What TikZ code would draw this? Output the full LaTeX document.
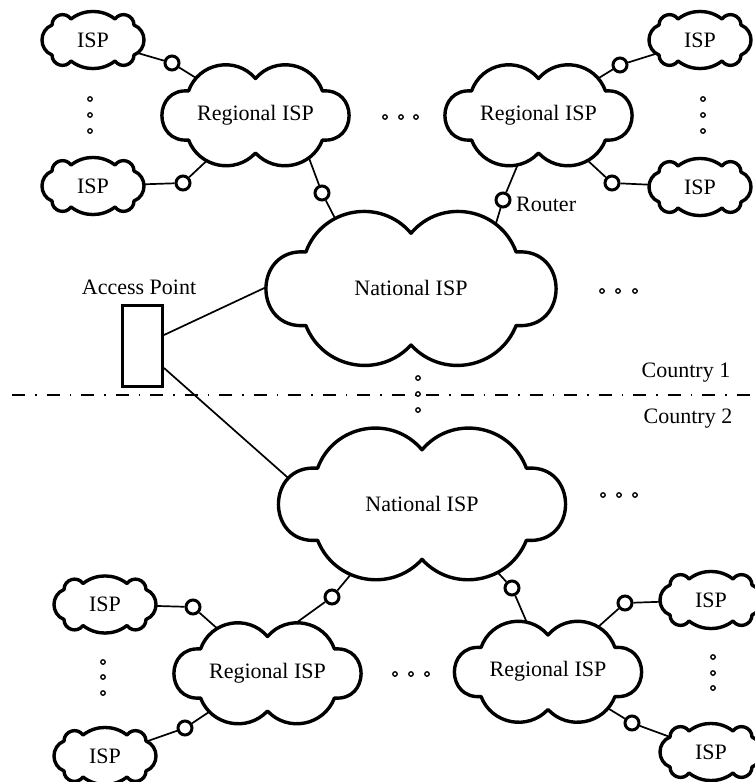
\documentclass[tikz,border=0pt]{standalone}
\usepackage{fontspec}
\setmainfont{Liberation Serif}
\pgfdeclarelayer{back}
\pgfsetlayers{back,main}

% Small ISP cloud: eight puffs, about 100 x 54
\newcommand\ispcloud[4]{% name, x, y, text
  \path[cloudline] ({#2-41},{#3-15})
    to[bend left=72,looseness=1.30] ({#2-22},{#3-21})
    to[bend left=38,looseness=0.955] ({#2+22},{#3-21})
    to[bend left=72,looseness=1.30] ({#2+41},{#3-15})
    to[bend left=68,looseness=1.23] ({#2+41},{#3+15})
    to[bend left=72,looseness=1.30] ({#2+22},{#3+21})
    to[bend left=38,looseness=0.955] ({#2-22},{#3+21})
    to[bend left=72,looseness=1.30] ({#2-41},{#3+15})
    to[bend left=68,looseness=1.23] ({#2-41},{#3-15}) -- cycle;
  \node[cloudtext] (#1) at (#2,#3) {#4};}

% Large cloud: six puffs, half width #4, half height #5
\newcommand\bigcloud[6]{% name, x, y, a, b, text
  \path[cloudline] ({#2-0.72*#4},{#3-0.48*#5})
    to[bend left=60,looseness=1.135] ({#2},{#3-0.73*#5})
    to[bend left=60,looseness=1.135] ({#2+0.72*#4},{#3-0.48*#5})
    to[bend left=95,looseness=1.866] ({#2+0.72*#4},{#3+0.5*#5})
    to[bend left=58,looseness=1.113] ({#2},{#3+0.76*#5})
    to[bend left=58,looseness=1.113] ({#2-0.72*#4},{#3+0.5*#5})
    to[bend left=95,looseness=1.866] ({#2-0.72*#4},{#3-0.48*#5}) -- cycle;
  \node[cloudtext] (#1) at (#2,#3) {#6};}

\begin{document}
\begin{tikzpicture}[x=1pt,y=-1pt,
  every node/.style={font=\fontsize{22}{26}\selectfont},
  cloudline/.style={draw, line width=3.4pt, line join=round, fill=white},
  cloudtext/.style={inner sep=0pt},
  router/.style={circle, draw, line width=3pt, fill=white, minimum size=14pt, inner sep=0pt},
  dotc/.style={circle, draw, line width=1.3pt, fill=white, minimum size=4.5pt, inner sep=0pt},
  link/.style={line width=1.7pt},
  label/.style={inner sep=0pt},
]
\useasboundingbox (0,0) rectangle (755,782);

% ---------- Country 1 ----------
\ispcloud{i1}{93}{40}{ISP}
\ispcloud{i2}{93}{186}{ISP}
\ispcloud{i3}{700}{40}{ISP}
\ispcloud{i4}{700}{187}{ISP}
\bigcloud{g1}{255.5}{115}{93}{50}{Regional ISP}
\bigcloud{g2}{538.5}{115}{93}{50}{Regional ISP}
\bigcloud{n1}{411}{288}{146}{75}{National ISP}

\node[router] (r1) at (172,63) {};
\node[router] (r2) at (183,183) {};
\node[router] (r3) at (322,193) {};
\node[router] (r4) at (620,65) {};
\node[router] (r5) at (612,183) {};
\node[router] (r6) at (503,200) {};

% link ends hidden under the cloud outlines
\coordinate (g1s) at (306,150);
\coordinate (n1a) at (340,228);
\coordinate (n1b) at (494,230);
\coordinate (n1w) at (275,283);

\node[label, anchor=west] (rlab) at (516,204) {Router};

% ---------- access point ----------
\node[draw, line width=3pt, fill=white, minimum width=40pt, minimum height=81pt, inner sep=0pt] (ap) at (142.5,346) {};
\node[label] (aplab) at (139,287) {Access Point};
\coordinate (apA) at ([yshift=11pt]ap.east);
\coordinate (apB) at ([yshift=-22pt]ap.east);

% ---------- border between the countries ----------
\coordinate (bl) at (12,395);
\coordinate (br) at (755,395);
\node[label] (c1) at (686,373) {Country 1};
\node[label] (c2) at (688,419) {Country 2};

% ---------- Country 2 ----------
\bigcloud{n2}{422}{503.5}{145}{73.5}{National ISP}
\bigcloud{g3}{267.5}{673}{93}{50}{Regional ISP}
\bigcloud{g4}{548}{671.5}{93}{50}{Regional ISP}
\ispcloud{i5}{105}{604.5}{ISP}
\ispcloud{i6}{105}{756}{ISP}
\ispcloud{i7}{711}{600}{ISP}
\ispcloud{i8}{711}{752}{ISP}

\node[router] (r7) at (193,607) {};
\node[router] (r8) at (185,728) {};
\node[router] (r9) at (332,597) {};
\node[router] (r10) at (512,588) {};
\node[router] (r11) at (625,603) {};
\node[router] (r12) at (632,723) {};

\coordinate (n2a) at (357,567);
\coordinate (g3n) at (289,628);
\coordinate (n2b) at (490,564);
\coordinate (n2w) at (295,484);

% ---------- links (behind the clouds) ----------
\begin{pgfonlayer}{back}
\draw[link] (i1.center) -- (r1) -- (g1.center);
\draw[link] (i2.center) -- (r2) -- (g1.center);
\draw[link] (g1s) -- (r3) -- (n1a);
\draw[link] (g2.center) -- (r4) -- (i3.center);
\draw[link] (g2.center) -- (r5) -- (i4.center);
\draw[link] (g2.center) -- (r6) -- (n1b);
\draw[link] (apA) -- (n1w);
\draw[link] (apB) -- (n2w);
\draw[link] (i5.center) -- (r7) -- (g3.center);
\draw[link] (i6.center) -- (r8) -- (g3.center);
\draw[link] (n2a) -- (r9) -- (g3n);
\draw[link] (n2b) -- (r10) -- (g4.center);
\draw[link] (g4.center) -- (r11) -- (i7.center);
\draw[link] (g4.center) -- (r12) -- (i8.center);
\draw[line width=1.3pt, dash pattern=on 13pt off 10pt on 1.5pt off 10pt] (bl) -- (br);
\end{pgfonlayer}

% ---------- ellipsis marks ----------
\foreach \y [count=\k] in {99,115,131} {
  \node[dotc] (va\k) at (90,\y) {};
  \node[dotc] (vb\k) at (703,\y) {};
}
\foreach \x [count=\k] in {385,401,416} \node[dotc] (ha\k) at (\x,117) {};
\foreach \x [count=\k] in {602,618,635} \node[dotc] (hb\k) at (\x,291) {};
\foreach \y [count=\k] in {378,394,410} \node[dotc] (vc\k) at (418,\y) {};
\foreach \x [count=\k] in {603,619,635} \node[dotc] (hc\k) at (\x,495) {};
\foreach \y [count=\k] in {662,677,693} \node[dotc] (vd\k) at (103,\y) {};
\foreach \x [count=\k] in {395,411,427} \node[dotc] (hd\k) at (\x,674) {};
\foreach \y [count=\k] in {657,673,688} \node[dotc] (ve\k) at (713,\y) {};
\end{tikzpicture}
\end{document}
